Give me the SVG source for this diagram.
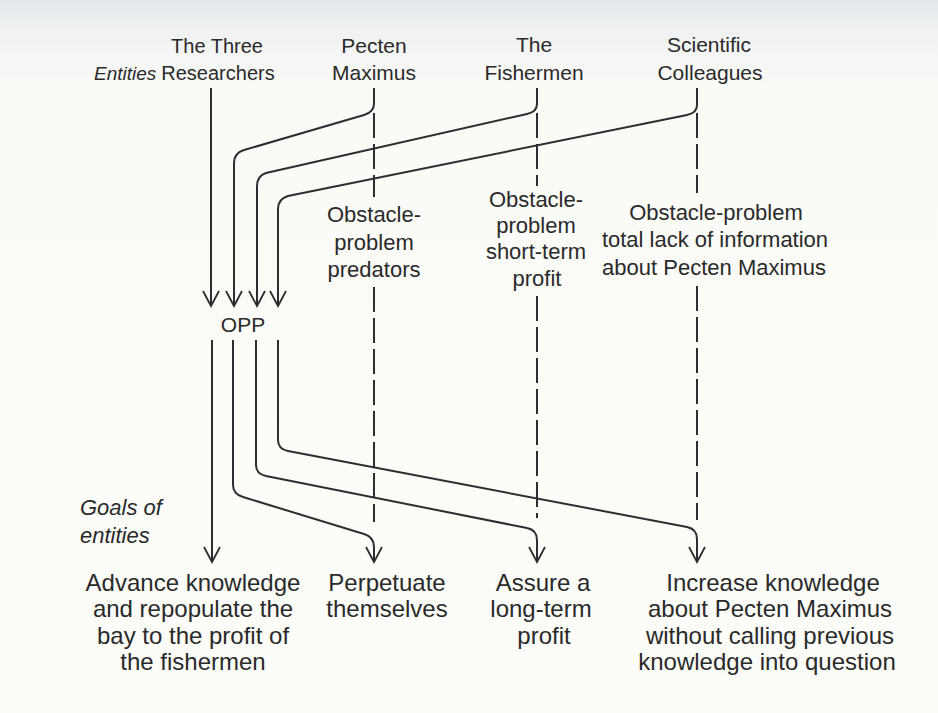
<svg xmlns="http://www.w3.org/2000/svg" width="938" height="713" viewBox="0 0 938 713">
<defs>
<linearGradient id="bg" x1="0" y1="0" x2="0" y2="1">
<stop offset="0" stop-color="#e4e8ec"/>
<stop offset="0.04" stop-color="#eff1f2"/>
<stop offset="0.12" stop-color="#fafaf7"/>
<stop offset="1" stop-color="#fcfcf9"/>
</linearGradient>
<marker id="ah" viewBox="-16 -9 18 18" markerWidth="18" markerHeight="18" refX="0" refY="0" orient="auto" markerUnits="userSpaceOnUse">
<path d="M-15,-8 L0,0 L-15,8" fill="none" stroke="#2e2e2e" stroke-width="1.8" stroke-linejoin="miter"/>
</marker>
<style>
text{font-family:"Liberation Sans","Arial",sans-serif;fill:#2a2a2a;text-anchor:middle}
.ent{font-size:21px}
.obs{font-size:22px}
.goal{font-size:24px}
.it{font-style:italic;text-anchor:start}
.ln{fill:none;stroke:#2e2e2e;stroke-width:2}
.arr{marker-end:url(#ah)}
.dash{fill:none;stroke:#2e2e2e;stroke-width:2;stroke-dasharray:25 6}
</style>
</defs>
<rect width="938" height="713" fill="url(#bg)"/>

<g id="label-entities"><text class="it" x="94" y="80" font-size="19">Entities</text></g>
<g id="label-goals"><text class="it" x="80" y="515" font-size="22">Goals of</text><text class="it" x="80" y="543" font-size="22">entities</text></g>

<g id="entity-researchers"><text class="ent" x="217" y="53" style="font-size:20px">The Three</text><text class="ent" x="218" y="80" style="font-size:20px">Researchers</text></g>
<g id="entity-pecten"><text class="ent" x="374" y="53">Pecten</text><text class="ent" x="374" y="80">Maximus</text></g>
<g id="entity-fishermen"><text class="ent" x="534" y="52">The</text><text class="ent" x="534" y="80">Fishermen</text></g>
<g id="entity-colleagues"><text class="ent" x="709" y="52">Scientific</text><text class="ent" x="710" y="80">Colleagues</text></g>

<g id="obstacle-pecten"><text class="obs" x="374" y="222">Obstacle-</text><text class="obs" x="374" y="250">problem</text><text class="obs" x="374" y="277">predators</text></g>
<g id="obstacle-fishermen"><text class="obs" x="536" y="207">Obstacle-</text><text class="obs" x="536" y="233">problem</text><text class="obs" x="536" y="259">short-term</text><text class="obs" x="537" y="286">profit</text></g>
<g id="obstacle-colleagues"><text class="obs" x="716" y="220">Obstacle-problem</text><text class="obs" x="715" y="247">total lack of information</text><text class="obs" x="714" y="275">about Pecten Maximus</text></g>

<g id="opp"><text class="ent" x="243" y="332">OPP</text></g>

<g id="goal-researchers"><text class="goal" x="193" y="591">Advance knowledge</text><text class="goal" x="193" y="617">and repopulate the</text><text class="goal" x="193" y="644">bay to the profit of</text><text class="goal" x="193" y="670">the fishermen</text></g>
<g id="goal-pecten"><text class="goal" x="387" y="591">Perpetuate</text><text class="goal" x="387" y="617">themselves</text></g>
<g id="goal-fishermen"><text class="goal" x="543" y="591">Assure a</text><text class="goal" x="541" y="617">long-term</text><text class="goal" x="544" y="644">profit</text></g>
<g id="goal-colleagues"><text class="goal" x="773" y="591">Increase knowledge</text><text class="goal" x="770" y="617">about Pecten Maximus</text><text class="goal" x="770" y="644">without calling previous</text><text class="goal" x="767" y="670">knowledge into question</text></g>

<g id="connectors">
<path class="ln arr" d="M211,88 V306"/>
<path class="ln arr" d="M374,88 V104 Q374,112 364,115 L244,150 Q234,153 234,163 V306"/>
<path class="ln arr" d="M537,88 V104 Q537,112 527,114 L266,173 Q257,176 257,186 V306"/>
<path class="ln arr" d="M697,88 V105 Q697,113 687,115 L288,196 Q278,199 278,209 V306"/>
<path class="dash" d="M374,113 V197 M374,287 V522"/>
<path class="dash" d="M537,113 V186 M537,296 V518"/>
<path class="dash" d="M697,113 V193 M697,286 V520"/>
<path class="ln arr" d="M212,340 V562"/>
<path class="ln arr" d="M233,340 V485 Q233,494 243,497 L364,534 Q374,537 374,547 V562"/>
<path class="ln arr" d="M256,340 V465 Q256,474 266,476 L527,528 Q537,530 537,540 V562"/>
<path class="ln arr" d="M278,340 V440 Q278,449 288,451 L687,527 Q697,529 697,539 V562"/>
</g>
</svg>
